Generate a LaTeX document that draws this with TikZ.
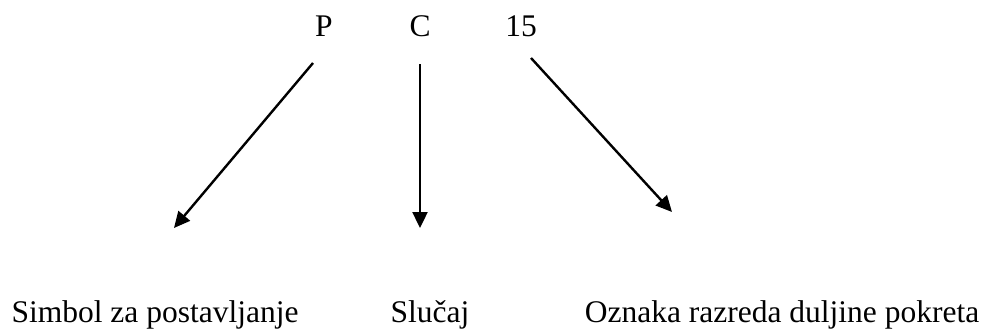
\documentclass[tikz,border=0pt]{standalone}
\usepackage{fontspec}
\setmainfont{Liberation Serif}
\usetikzlibrary{arrows.meta}
\begin{document}
\begin{tikzpicture}[x=1pt,y=-1pt,
  lbl/.style={inner sep=0pt,anchor=base,font=\fontsize{31.5}{36}\selectfont},
  arr/.style={line width=2.4pt,-{Triangle[length=16pt,width=15pt]}}]
\useasboundingbox (0,0) rectangle (984,329);
\node[lbl] (p) at (324,37) {P};
\node[lbl] (c) at (420,37) {C};
\node[lbl] (n) at (521,37) {15};
\node[lbl] (simbol) at (155,322) {Simbol za postavljanje};
\node[lbl] (slucaj) at (430,322) {Slučaj};
\node[lbl] (oznaka) at (782,322) {Oznaka razreda duljine pokreta};
\coordinate (ps) at (313,63);
\coordinate (pe) at (174,228);
\coordinate (cs) at (420,64);
\coordinate (ce) at (420,228);
\coordinate (ns) at (531,58);
\coordinate (ne) at (672,212);
\draw[arr] (ps) -- (pe);
\draw[arr] (cs) -- (ce);
\draw[arr] (ns) -- (ne);
\end{tikzpicture}
\end{document}
